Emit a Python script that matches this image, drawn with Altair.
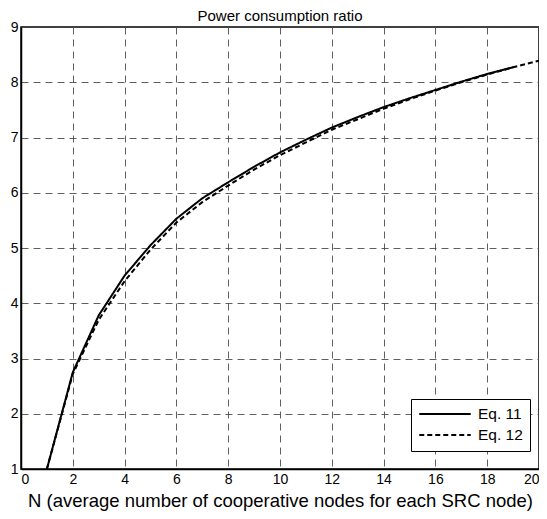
import altair as alt
import pandas as pd

n_eq11 = list(range(1, 20))
eq11 = [1.0, 2.75, 3.78, 4.5, 5.05, 5.53, 5.9, 6.19, 6.47, 6.73, 6.96, 7.18, 7.37, 7.55, 7.71, 7.86, 8.01, 8.15, 8.27]
n_eq12 = list(range(1, 21))
eq12 = [1.0, 2.72, 3.7, 4.4, 4.97, 5.46, 5.83, 6.13, 6.42, 6.68, 6.91, 7.14, 7.33, 7.52, 7.69, 7.85, 8.0, 8.14, 8.27, 8.39]

series = ["Eq. 11", "Eq. 12"]
x_ticks = list(range(0, 21, 2))
y_ticks = list(range(1, 10))

df = pd.concat([
    pd.DataFrame({"N": n_eq11, "ratio": eq11, "series": series[0]}),
    pd.DataFrame({"N": n_eq12, "ratio": eq12, "series": series[1]}),
])

FONT = "Liberation Sans"

chart = alt.Chart(df).mark_line(strokeWidth=2, color="black").encode(
    x=alt.X("N:Q", scale=alt.Scale(domain=[0, 20], nice=False),
            axis=alt.Axis(values=x_ticks, title="N (average number of cooperative nodes for each SRC node)",
                          format="d")),
    y=alt.Y("ratio:Q", scale=alt.Scale(domain=[1, 9], nice=False, zero=False),
            axis=alt.Axis(values=y_ticks, title=None, format="d")),
    strokeDash=alt.StrokeDash("series:N", scale=alt.Scale(domain=series, range=[[1, 0], [5, 3]]),
                              legend=alt.Legend(title=None, orient="none", legendX=390, legendY=372,
                                                symbolType="stroke", symbolSize=2650, symbolStrokeWidth=2,
                                                symbolStrokeColor="black", clipHeight=16,
                                                labelFontSize=15.5, labelFont=FONT, labelColor="black",
                                                strokeColor="black", fillColor="white", padding=7,
                                                rowPadding=4, labelOffset=6)),
    order="N:Q",
).properties(
    width=518, height=442,
    title=alt.Title("Power consumption ratio", fontSize=15, font=FONT, fontWeight="normal", color="black",
                    offset=1, dy=5),
    padding={"left": 13, "top": 19, "right": 0, "bottom": 42},
    autosize=alt.AutoSizeParams(type="none"),
    background="white",
).configure_view(
    stroke="black", strokeWidth=1.5
).configure_axis(
    grid=True, gridColor="#444444", gridDash=[7, 5], gridWidth=1, gridOpacity=0.85,
    domainColor="black", domainWidth=1.5, ticks=False,
    labelFont=FONT, labelFontSize=14, labelColor="black", labelPadding=3,
    titleFont=FONT, titleFontSize=18.5, titleFontWeight="normal", titleColor="black", titlePadding=5,
)

chart.save("out.html", embed_options={"renderer": "svg", "actions": False})
